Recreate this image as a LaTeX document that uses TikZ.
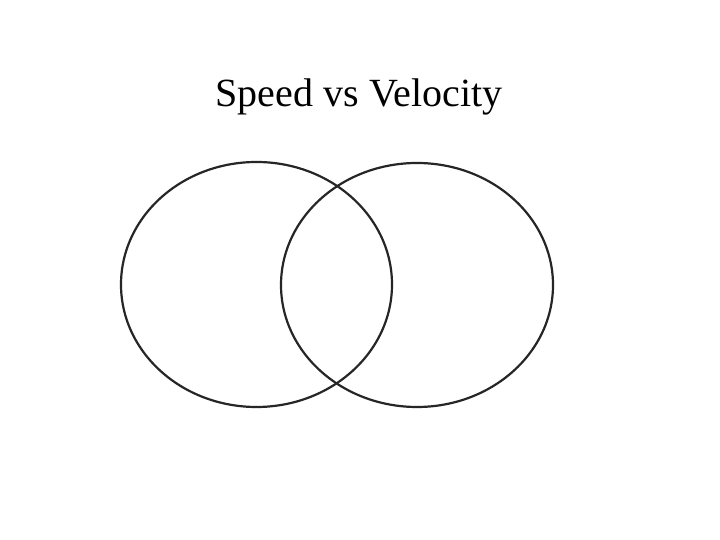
\documentclass[tikz,border=0pt]{standalone}
\usepackage{fontspec}
\setmainfont{Liberation Serif}
\begin{document}
\begin{tikzpicture}[x=1pt,y=1pt,
  venn/.style={draw=black!85,line width=2.2pt}]
\useasboundingbox[fill=white] (0,0) rectangle (720,540);
\node (title) at (359,443) {\fontsize{40}{48}\selectfont Speed vs Velocity};
\draw[venn] (256.5,255.5) ellipse [x radius=135.5, y radius=122.5];
\draw[venn] (417,255) ellipse [x radius=136, y radius=122];
\end{tikzpicture}
\end{document}
